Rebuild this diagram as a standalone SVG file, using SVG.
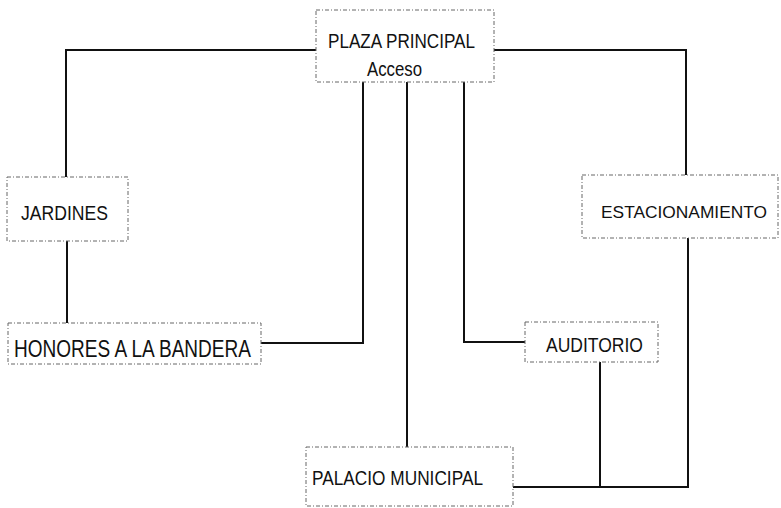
<svg xmlns="http://www.w3.org/2000/svg" width="781" height="508" viewBox="0 0 781 508">
<style>
.box{fill:#fff;stroke:#666;stroke-width:1;stroke-dasharray:4 2 1 2}
.lbl{font-family:"Liberation Sans",Arial,sans-serif;font-size:20px;fill:#111}
.con{fill:none;stroke:#111;stroke-width:2}
</style>
<rect width="781" height="508" fill="#fff"/>
<g id="connectors">
<polyline class="con" points="316,50 66,50 66,177"/>
<polyline class="con" points="494,50 686,50 686,175"/>
<line class="con" x1="67" y1="241" x2="67" y2="323"/>
<polyline class="con" points="261,343 363,343 363,82"/>
<line class="con" x1="407" y1="82" x2="407" y2="447"/>
<polyline class="con" points="464,82 464,342 525,342"/>
<polyline class="con" points="513,487 688,487 688,238"/>
<line class="con" x1="600" y1="362" x2="600" y2="487"/>
</g>
<g id="plaza">
<rect class="box" x="316" y="10" width="178" height="72"/>
<text class="lbl" x="328" y="48" textLength="147" lengthAdjust="spacingAndGlyphs">PLAZA PRINCIPAL</text>
<text class="lbl" x="367" y="76" textLength="55" lengthAdjust="spacingAndGlyphs">Acceso</text>
</g>
<g id="jardines">
<rect class="box" x="7" y="177" width="121" height="64"/>
<text class="lbl" x="21" y="220" textLength="87" lengthAdjust="spacingAndGlyphs">JARDINES</text>
</g>
<g id="honores">
<rect class="box" x="8" y="323" width="253" height="41"/>
<text class="lbl" x="14" y="357" textLength="237" lengthAdjust="spacingAndGlyphs" style="font-size:24px">HONORES A LA BANDERA</text>
</g>
<g id="estacionamiento">
<rect class="box" x="582" y="175" width="196" height="63"/>
<text class="lbl" x="601" y="218" textLength="166" lengthAdjust="spacingAndGlyphs" style="font-size:17px">ESTACIONAMIENTO</text>
</g>
<g id="auditorio">
<rect class="box" x="525" y="322" width="133" height="40"/>
<text class="lbl" x="546" y="352" textLength="97" lengthAdjust="spacingAndGlyphs">AUDITORIO</text>
</g>
<g id="palacio">
<rect class="box" x="306" y="447" width="207" height="59"/>
<text class="lbl" x="312" y="485" textLength="171" lengthAdjust="spacingAndGlyphs">PALACIO MUNICIPAL</text>
</g>
</svg>
